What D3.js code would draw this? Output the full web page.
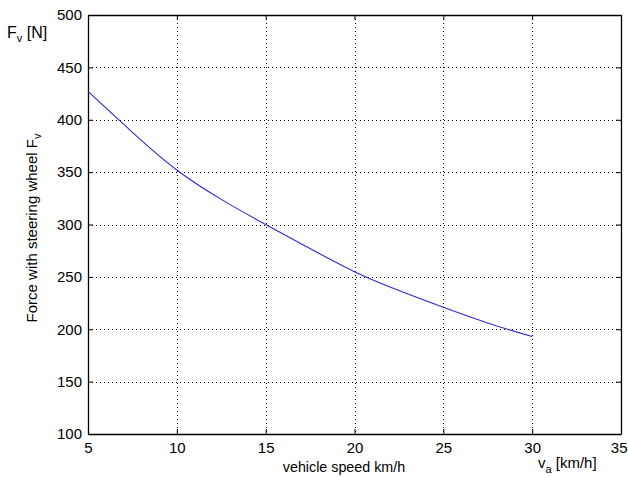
<!DOCTYPE html>
<html><head><meta charset="utf-8">
<script src="https://cdn.jsdelivr.net/npm/d3@7"></script>
<style>
html,body{margin:0;padding:0;background:#fff;}
text{font-family:"Liberation Sans",Arial,Helvetica,sans-serif;}
</style></head>
<body><svg id="c" width="628" height="477"></svg>
<script>
const speed = [5,7.5,10,12.5,15,17.5,20,22.5,25,27.5,30];
const force = [427,388,352,324,300,277,255,237,221,206,193];
const xTicks = [5,10,15,20,25,30,35];
const yTicks = [100,150,200,250,300,350,400,450,500];

const svg = d3.select("#c");
const L=88, R=621, T=15, B=434;
const x = d3.scaleLinear().domain([5,35]).range([L,R]);
const y = d3.scaleLinear().domain([100,500]).range([B,T]);

const g = svg.append("g");
g.selectAll(".gx").data(xTicks.slice(1,-1)).enter().append("line")
  .attr("x1",d=>Math.round(x(d))+0.5).attr("x2",d=>Math.round(x(d))+0.5)
  .attr("y1",T).attr("y2",B).attr("stroke","#000").attr("stroke-width",1).attr("stroke-dasharray","1,3");
g.selectAll(".gy").data(yTicks.slice(1,-1)).enter().append("line")
  .attr("y1",d=>Math.round(y(d))+0.5).attr("y2",d=>Math.round(y(d))+0.5)
  .attr("x1",L).attr("x2",R).attr("stroke","#000").attr("stroke-width",1).attr("stroke-dasharray","1,3");

const ax = d3.axisBottom(x).tickValues(xTicks).tickSizeInner(-5).tickSizeOuter(0).tickPadding(8);
const ay = d3.axisLeft(y).tickValues(yTicks).tickSizeInner(-5).tickSizeOuter(0).tickPadding(6);
const axT = d3.axisTop(x).tickValues(xTicks).tickSizeInner(-5).tickSizeOuter(0).tickFormat("");
const ayR = d3.axisRight(y).tickValues(yTicks).tickSizeInner(-5).tickSizeOuter(0).tickFormat("");

function style(sel){
  sel.select(".domain").attr("stroke","#000").attr("stroke-width",1.3);
  sel.selectAll(".tick line").attr("stroke","#000");
  sel.selectAll(".tick text").attr("fill","#000").attr("font-size","15px")
    .attr("font-family","'Liberation Sans',Arial,sans-serif");
}
const gx = svg.append("g").attr("transform",`translate(0,${B})`).call(ax).call(style);
gx.selectAll(".tick text").filter(d=>d===35).attr("text-anchor","end").attr("x",627-R);
svg.append("g").attr("transform",`translate(${L},0)`).call(ay).call(style);
svg.append("g").attr("transform",`translate(0,${T})`).call(axT).call(style);
svg.append("g").attr("transform",`translate(${R},0)`).call(ayR).call(style);

const line = d3.line().x((d,i)=>x(speed[i])).y(d=>y(d)).curve(d3.curveNatural);
svg.append("path").datum(force).attr("d",line).attr("fill","none")
  .attr("stroke","#2a2ad0").attr("stroke-width",1.1);

const t1 = svg.append("text").attr("x",7).attr("y",38).attr("font-size","16px").attr("fill","#000");
t1.append("tspan").text("F");
t1.append("tspan").attr("dy",4).attr("font-size","11px").text("v");
t1.append("tspan").attr("dy",-4).text(" [N]");

const t2 = svg.append("text").attr("transform","translate(37,228) rotate(-90)")
  .attr("text-anchor","middle").attr("font-size","15px").attr("fill","#000");
t2.append("tspan").text("Force with steering wheel F");
t2.append("tspan").attr("dy",4).attr("font-size","11px").text("v");

svg.append("text").attr("x",344).attr("y",472).attr("text-anchor","middle")
  .attr("font-size","14.3px").attr("fill","#000").text("vehicle speed km/h");

const t3 = svg.append("text").attr("x",538).attr("y",468).attr("font-size","15px").attr("fill","#000");
t3.append("tspan").text("v");
t3.append("tspan").attr("dy",5).attr("font-size","11px").text("a");
t3.append("tspan").attr("dy",-5).text(" [km/h]");
</script></body></html>
